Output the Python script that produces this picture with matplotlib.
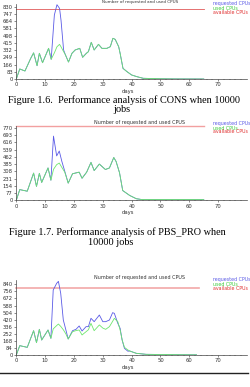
import numpy as np
import matplotlib
matplotlib.use("Agg")
import matplotlib.pyplot as plt

# ---- data ----
# Figure 1.6 (CONS)
days1 = [0, 1.2, 3, 5, 6, 7.2, 8, 9.1, 11.2, 12.1, 13.2, 14.1, 15, 15.5, 16.4, 17,
         18.1, 19.3, 20.4, 22, 23, 24.3, 25, 26, 27, 28.5, 29.7, 31.4, 32.6, 33.5,
         34.3, 35.5, 36, 37, 38.4, 40, 41.8, 44, 50, 55, 65]
used1 = [0, 115, 92, 237, 300, 153, 295, 187, 352, 226, 300, 370, 398, 370, 314, 280,
         195, 295, 333, 352, 249, 295, 314, 421, 333, 398, 352, 352, 371, 467,
         455, 371, 295, 122, 84, 46, 27, 8, 3, 1, 0]
req1 = [0, 115, 92, 237, 300, 153, 295, 187, 352, 226, 735, 853, 811, 677, 333, 280,
        195, 295, 333, 352, 249, 295, 314, 421, 333, 398, 352, 352, 371, 467,
        455, 371, 295, 122, 84, 46, 27, 8, 3, 1, 0]
avail1 = 804

# Figure 1.7 (PBS_PRO)
days2 = [0, 1.2, 3.8, 6, 7, 8, 8.8, 11, 12, 12.9, 14, 14.9, 15.8, 16.8, 18, 19.5,
         21.8, 22.8, 24.4, 25.9, 27, 28.8, 30.9, 32.3, 33.8, 34.6, 35.8, 36.9,
         39.3, 41.6, 43.3, 55, 65]
used2 = [0, 114, 97, 290, 148, 287, 190, 345, 214, 330, 380, 397, 350, 300, 183, 283,
         300, 235, 300, 404, 317, 386, 328, 345, 456, 414, 293, 104,
         52, 17, 9, 9, 7]
req2 = [0, 114, 97, 290, 148, 287, 190, 345, 214, 684, 473, 525, 414, 310, 183, 283,
        300, 235, 300, 404, 317, 386, 328, 345, 456, 414, 293, 104,
        52, 17, 9, 9, 7]
avail2 = 791

# third chart
days3 = [0, 1.2, 3.8, 6, 7, 8, 8.8, 11, 12, 12.8, 14, 14.6, 15.4, 16.3, 17.2, 18,
         19.5, 20.7, 21.8, 22.8, 24.2, 25, 25.9, 27, 28.8, 30, 31, 32.3, 33.4, 34,
         35.2, 36, 36.7, 37.5, 38.7, 39.3, 41.6, 45, 55, 62.5]
used3 = [0, 111, 91, 289, 147, 305, 178, 297, 198, 310, 350, 368, 340, 300, 250, 190,
         277, 290, 297, 238, 277, 300, 376, 289, 357, 320, 305, 337, 400, 436,
         396, 297, 180, 91, 60, 48, 20, 8, 4, 2]
req3 = [0, 111, 91, 289, 147, 305, 178, 297, 198, 772, 852, 875, 733, 416, 297, 190,
        289, 305, 345, 285, 337, 337, 436, 396, 475, 396, 396, 416, 503, 495,
        376, 317, 178, 79, 45, 48, 20, 8, 4, 2]
avail3 = 792

yticks1 = [0, 83, 166, 249, 332, 415, 498, 581, 664, 747, 830]
yticks2 = [0, 77, 154, 231, 308, 385, 462, 539, 616, 693, 770]
yticks3 = [0, 84, 168, 252, 336, 420, 504, 588, 672, 756, 840]
xticks = [0, 10, 20, 30, 40, 50, 60, 70]

W, H = 250, 387
fig = plt.figure(figsize=(W / 100, H / 100), dpi=100)


def fx(px):
    return px / W


def fy(py):
    return 1 - py / H


BLUE = "#5a5ae6"
GREEN = "#6ee66e"


def chart(top, bottom, ytop, days, used, req, avail, avail_end, redcol, redlw,
          yticks, title_y, title_size, leg_y):
    ax = fig.add_axes([fx(16.3), fy(bottom), fx(247 - 16.3), (bottom - top) / H])
    ax.plot([0, avail_end], [avail, avail], color=redcol, lw=redlw, clip_on=False)
    ax.plot(days, req, color=BLUE, lw=0.6)
    ax.plot(days, used, color=GREEN, lw=0.6)
    ax.set_xlim(0, 80)
    ax.set_ylim(0, ytop)
    ax.set_xticks(xticks)
    ax.set_xticks(np.arange(0, 80, 2), minor=True)
    ax.set_yticks(yticks)
    ax.tick_params(labelsize=3.8, length=1.5, width=0.4, pad=1, colors="#333333")
    ax.tick_params(which="minor", length=0.8, width=0.3)
    for s in ["top", "right"]:
        ax.spines[s].set_visible(False)
    for s in ["left", "bottom"]:
        ax.spines[s].set_linewidth(0.5)
        ax.spines[s].set_color("#444444")
    ax.patch.set_alpha(0)
    fig.text(fx(128), fy(bottom + 12), "days", fontsize=3.8, ha="center", va="center",
             color="#333333")
    fig.text(fx(140), fy(title_y), "Number of requested and used CPUS",
             fontsize=title_size, ha="center", va="center", color="#333333")
    fig.text(fx(213), fy(leg_y), "requested CPUs", fontsize=3.4, color=BLUE, va="center")
    fig.text(fx(213), fy(leg_y + 4), "used CPUs", fontsize=3.4, color="#3ccc3c", va="center")
    fig.text(fx(213), fy(leg_y + 8), "available CPUs", fontsize=3.4, color="#e03030", va="center")
    return ax


chart(4.1, 79, 860, days1, used1, req1, avail1, 65, "#e05a5a", 0.6,
      yticks1, 1.5, 3.0, 4)
chart(125.7, 200.3, 795, days2, used2, req2, avail2, 65, "#f2a0a0", 1.0,
      yticks2, 122.7, 3.5, 124)
chart(280.1, 355, 890, days3, used3, req3, avail3, 63.5, "#f2a8a8", 1.2,
      yticks3, 277, 3.5, 280)

serif = "Liberation Serif"
fig.text(fx(124), fy(100), "Figure 1.6.  Performance analysis of CONS when 10000",
         fontsize=7.4, family=serif, ha="center", va="center")
fig.text(fx(122), fy(109), "jobs", fontsize=7.4, family=serif, ha="center", va="center")
fig.text(fx(117), fy(232), "Figure 1.7. Performance analysis of PBS_PRO when",
         fontsize=7.4, family=serif, ha="center", va="center")
fig.text(fx(111), fy(242), "10000 jobs", fontsize=7.4, family=serif, ha="center", va="center")

# rule under the last chart
fig.add_artist(plt.Line2D([0, fx(248)], [fy(373), fy(373)], color="#222222", lw=1.0))

fig.savefig("out.png", dpi=100)
